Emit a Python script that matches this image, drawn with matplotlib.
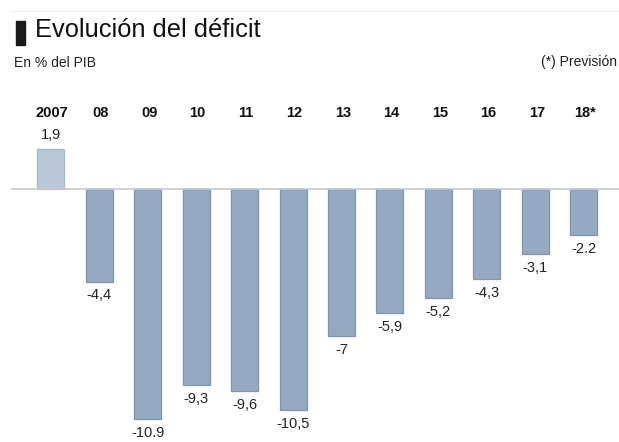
import matplotlib
matplotlib.use('Agg')
import matplotlib.pyplot as plt
from matplotlib.lines import Line2D
from matplotlib.patches import Rectangle

plt.rcParams['font.family'] = ['Liberation Sans', 'DejaVu Sans']

# Data
Years = ['2007', '08', '09', '10', '11', '12', '13', '14', '15', '16', '17', '18*']
Deficit = [1.9, -4.4, -10.9, -9.3, -9.6, -10.5, -7.0, -5.9, -5.2, -4.3, -3.1, -2.2]
Value_Labels = ['1,9', '-4,4', '-10.9', '-9,3', '-9,6', '-10,5', '-7', '-5,9', '-5,2', '-4,3', '-3,1', '-2.2']

W, H = 619, 442
fig = plt.figure(figsize=(W / 100, H / 100), dpi=100)
fig.patch.set_facecolor('white')
ax = fig.add_axes([0, 0, 1, 1])
ax.set_axis_off()

# pixel mapping: bar 0 centre at x=50.8, step 48.45 px; zero at y=188.7, 21.1 px per unit
step = 48.45
ppu = 21.1
ax.set_xlim(-50.8 / step, (W - 50.8) / step)
ax.set_ylim(-(H - 188.7) / ppu, 188.7 / ppu)

x = list(range(len(Years)))
fills = ['#b9c7d7'] + ['#95a9c0'] * (len(Years) - 1)
edges = ['#a6b5c7'] + ['#7f94ad'] * (len(Years) - 1)
ax.bar(x, Deficit, width=27 / step, color=fills, edgecolor=edges, linewidth=0.9, zorder=2)

ax.axhline(0, xmin=12 / W, xmax=1, color='#c8c8c8', lw=1.2, zorder=3)

year_y = (188.7 - 113) / ppu
for i, yr in enumerate(Years):
    ax.text(i + 0.03, year_y, yr, ha='center', va='center', fontsize=10.5, fontweight='bold', color='#111111')
    v = Deficit[i]
    if v >= 0:
        ax.annotate(Value_Labels[i], (i, v), xytext=(0, 5), textcoords='offset points',
                    ha='center', va='bottom', fontsize=10.5, color='#222222')
    else:
        ax.annotate(Value_Labels[i], (i, v), xytext=(0, -5), textcoords='offset points',
                    ha='center', va='top', fontsize=10.5, color='#222222')

# header
fig.add_artist(Line2D([12 / W, 1], [1 - 11 / H, 1 - 11 / H], color='#eeeeee', lw=1))
fig.add_artist(Rectangle((16 / W, 1 - 45 / H), 9 / W, 24 / H, color='#1a1a1a', transform=fig.transFigure))
fig.text(35 / W, 1 - 37 / H, 'Evolución del déficit', fontsize=18.3, color='#111111', va='baseline')
fig.text(14 / W, 1 - 63 / H, 'En % del PIB', fontsize=10, color='#222222', va='center')
fig.text(617 / W, 1 - 62 / H, '(*) Previsión', fontsize=10, color='#222222', va='center', ha='right')

fig.savefig('out.png', dpi=100, facecolor='white')
